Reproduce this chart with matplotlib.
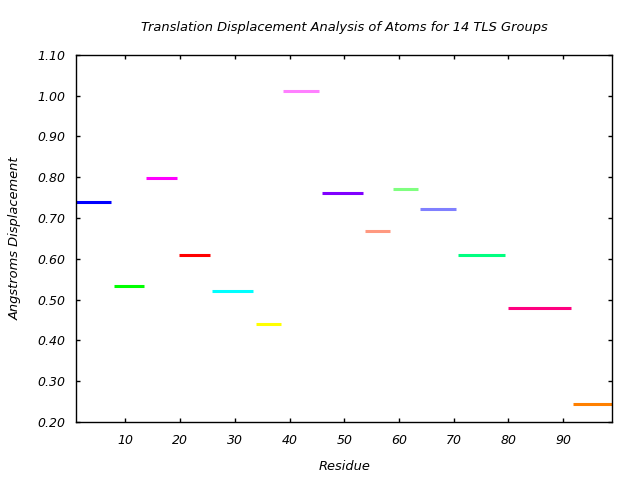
import matplotlib
matplotlib.use("Agg")
import matplotlib.pyplot as plt

# TLS groups: residue ranges and translation displacement (Angstroms)
group_start = [1, 8, 14, 20, 26, 34, 39, 46, 54, 59, 64, 71, 80, 92]
group_end = [7, 13, 19, 25, 33, 38, 45, 53, 58, 63, 70, 79, 91, 99]
displacement = [0.738, 0.534, 0.797, 0.608, 0.522, 0.441, 1.010, 0.760,
                 0.669, 0.772, 0.721, 0.610, 0.478, 0.243]
colors = ["#0000ff", "#00ff00", "#ff00ff", "#ff0000", "#00ffff", "#ffff00",
          "#ff80ff", "#8000ff", "#ff9980", "#80ff80", "#8080ff", "#00ff80",
          "#ff0080", "#ff8000"]
xticks = [10, 20, 30, 40, 50, 60, 70, 80, 90]
yticks = [0.20, 0.30, 0.40, 0.50, 0.60, 0.70, 0.80, 0.90, 1.00, 1.10]

plt.rcParams['font.family'] = ['DejaVu Sans']
fig = plt.figure(figsize=(6.4, 4.8), dpi=100)
ax = fig.add_axes([0.119, 0.121, 0.838, 0.765])

for s, e, v, c in zip(group_start, group_end, displacement, colors):
    ax.hlines(v, s - 0.15, min(e + 0.4, 99), colors=c, linewidth=2.2)

ax.set_xlim(1, 99)
ax.set_ylim(0.20, 1.10)
ax.set_xticks(xticks)
ax.set_yticks(yticks)
ax.set_xticklabels([str(t) for t in xticks], fontsize=9, style='italic')
ax.set_yticklabels([f"{t:.2f}" for t in yticks], fontsize=9, style='italic')
ax.tick_params(axis='y', direction='in', right=True, length=3, width=1, pad=8)
ax.tick_params(axis='x', direction='in', top=True, length=3, width=1, pad=9)
for sp in ax.spines.values():
    sp.set_linewidth(1)

ax.set_title("Translation Displacement Analysis of Atoms for 14 TLS Groups",
             fontsize=9.4, style='italic', pad=17)
ax.set_xlabel("Residue", fontsize=9.4, style='italic', labelpad=9)
ax.set_ylabel("Angstroms Displacement", fontsize=9.4, style='italic', labelpad=11)

fig.savefig("out.png", dpi=100)
